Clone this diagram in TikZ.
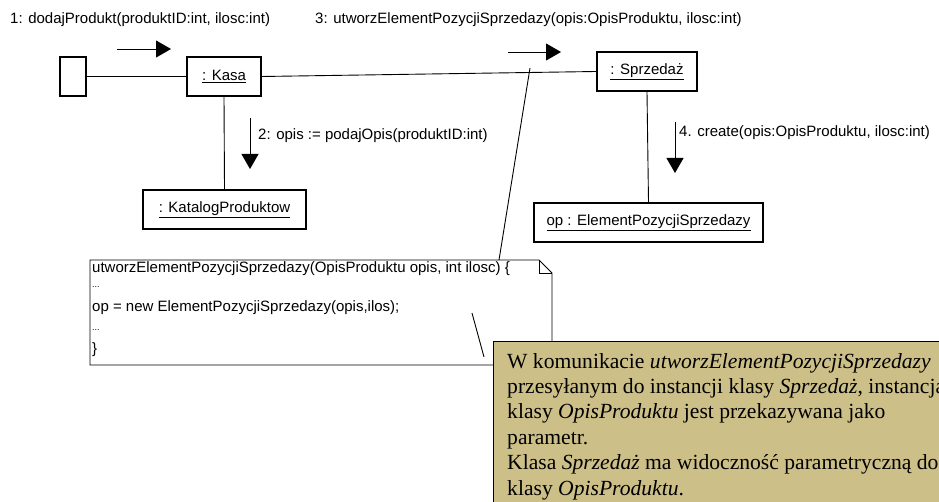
\documentclass[tikz,border=0pt]{standalone}
\usepackage{fontspec}
\setmainfont{Liberation Sans}
\newfontfamily\serifnote{Liberation Serif}
\usetikzlibrary{arrows.meta}
\definecolor{tan}{RGB}{205,191,136}
\tikzset{
  obj/.style={draw, line width=2.2pt, minimum height=39pt, inner sep=0pt, font=\fontsize{15}{17}\selectfont},
  link/.style={line width=0.9pt},
  msg/.style={line width=0.9pt, -{Triangle[length=15pt,width=17pt]}},
  lbl/.style={anchor=west, inner sep=0pt, font=\fontsize{15}{17}\selectfont},
  codeline/.style={anchor=west, inner sep=0pt, font=\fontsize{15}{17}\selectfont},
  noteline/.style={anchor=base west, inner sep=0pt, font=\serifnote\fontsize{21.6}{25}\selectfont},
}
\begin{document}
\begin{tikzpicture}[x=1pt,y=-1pt]
\useasboundingbox (0,0) rectangle (939,502);
\clip (0,0) rectangle (939,502);
% objects
\node[obj, minimum width=26pt] (actor) at (73,76.5) {};
\node[obj, minimum width=74pt] (kasa) at (224,76.5) {\underline{: Kasa}};
\node[obj, minimum width=163pt] (kat) at (224.5,209.5) {\underline{: KatalogProduktow}};
\node[obj, minimum width=100pt] (sprz) at (647,71.5) {\underline{: Sprzedaż}};
\node[obj, minimum width=229pt] (elem) at (648.5,222.5) {\underline{op : ElementPozycjiSprzedazy}};
% links
\draw[link] (actor.east) -- (kasa.west);
\draw[link] (kasa.east) -- (sprz.west);
\draw[link] (kasa.south) -- (kat.north);
\draw[link] (sprz.south) -- (elem.north);
% messages
\coordinate (m1a) at (117,49); \coordinate (m1b) at (171,49);
\coordinate (m3a) at (508,52); \coordinate (m3b) at (561,52);
\coordinate (m2a) at (250,118); \coordinate (m2b) at (250,169);
\coordinate (m4a) at (675,122); \coordinate (m4b) at (675,173);
\draw[msg] (m1a) -- (m1b);
\draw[msg] (m3a) -- (m3b);
\draw[msg] (m2a) -- (m2b);
\draw[msg] (m4a) -- (m4b);
\node[lbl] (l1) at (10,20) {1: dodajProdukt(produktID:int, ilosc:int)};
\node[lbl] (l3) at (315,20) {3: utworzElementPozycjiSprzedazy(opis:OpisProduktu, ilosc:int)};
\node[lbl] (l2) at (258,136) {2: opis := podajOpis(produktID:int)};
\node[lbl] (l4) at (679,133) {4. create(opis:OpisProduktu, ilosc:int)};
% code note
\coordinate (n1) at (90,260);
\coordinate (n2) at (539,260);
\coordinate (n3) at (552,273);
\coordinate (n4) at (552,365);
\coordinate (n5) at (90,365);
\coordinate (f1) at (539,273);
\draw[line width=0.9pt, fill=white] (n1) -- (n2) -- (n3) -- (n4) -- (n5) -- cycle;
\draw[line width=0.9pt] (n2) -- (f1) -- (n3);
\node[codeline] (c1) at (92,269) {utworzElementPozycjiSprzedazy(OpisProduktu opis, int ilosc) \{};
\node[codeline] (c2) at (92,287) {\fontsize{9}{10}\selectfont ...};
\node[codeline] (c3) at (92,308) {op = new ElementPozycjiSprzedazy(opis,ilos);};
\node[codeline] (c4) at (92,330) {\fontsize{9}{10}\selectfont ...};
\node[codeline] (c5) at (92,350) {\}};
\coordinate (a1) at (499,260); \coordinate (a2) at (530,68);
\draw[link] (a1) -- (a2);
\coordinate (b1) at (472,313); \coordinate (b2) at (484,357);
\draw[link] (b1) -- (b2);
% comment box
\coordinate (t1) at (493,341);
\coordinate (t2) at (980,540);
\draw[line width=0.9pt, fill=tan] (t1) rectangle (t2);
\node[noteline] (r1) at (507,368) {W komunikacie \textit{utworzElementPozycjiSprzedazy}};
\node[noteline] (r2) at (507,393.4) {przesyłanym do instancji klasy \textit{Sprzedaż}, instancja};
\node[noteline] (r3) at (507,418.8) {klasy \textit{OpisProduktu} jest przekazywana jako};
\node[noteline] (r4) at (507,444.2) {parametr.};
\node[noteline] (r5) at (507,469.6) {Klasa \textit{Sprzedaż} ma widoczność parametryczną do};
\node[noteline] (r6) at (507,495) {klasy \textit{OpisProduktu}.};
\end{tikzpicture}
\end{document}
